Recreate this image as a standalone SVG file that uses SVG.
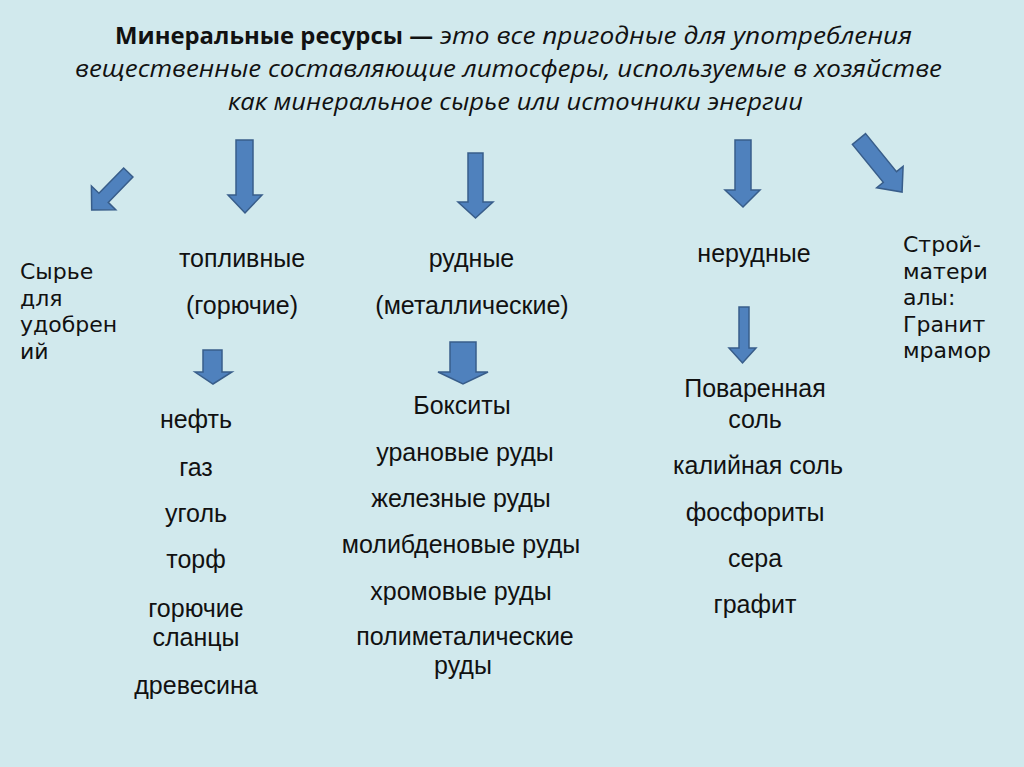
<svg xmlns="http://www.w3.org/2000/svg" width="1024" height="767" viewBox="0 0 1024 767">
<defs>
<style>
.t{font-family:"Open Sans","Liberation Sans",sans-serif;font-size:23px;fill:#111}
.b{font-weight:bold;font-style:normal}
.i{font-style:italic}
.m{font-family:"Liberation Sans",Arial,sans-serif;font-size:25px;fill:#111;text-anchor:middle}
.s{font-family:"DejaVu Sans",Verdana,sans-serif;font-size:22px;fill:#111}
.arr{fill:#4f81bd;stroke:#385d8a;stroke-width:1.5;stroke-linejoin:miter}
</style>
</defs>
<rect x="0" y="0" width="1024" height="767" fill="#d1e9ed"/>
<g id="title">
<text class="t b" x="115" y="44" textLength="318" lengthAdjust="spacingAndGlyphs">Минеральные ресурсы —</text>
<text class="t i" x="440" y="44" textLength="472" lengthAdjust="spacingAndGlyphs">это все пригодные для употребления</text>
<text class="t i" x="75" y="77" textLength="867" lengthAdjust="spacingAndGlyphs">вещественные составляющие литосферы, используемые в хозяйстве</text>
<text class="t i" x="228" y="110" textLength="575" lengthAdjust="spacingAndGlyphs">как минеральное сырье или источники энергии</text>
</g>
<g id="connectors">
<polygon class="arr" points="236,140 253,140 253,195 262,195 245,213 228,195 236,195"/>
<polygon class="arr" points="468,153 483,153 483,202 493,202 475.5,218 458,202 468,202"/>
<polygon class="arr" points="735,140 751,140 751,190 760,190 743,207 725,190 735,190"/>
<polygon class="arr" points="203,350 222,350 222,372 232,372 213,384 195,372 203,372"/>
<polygon class="arr" points="450,342 476,342 476,372 488,372 463,384 438,372 450,372"/>
<polygon class="arr" points="739,307 749,307 749,348 756,348 742.5,363 729,348 739,348"/>
<polygon class="arr" transform="translate(859,139) rotate(50.9)" points="0,-8.5 49,-8.5 49,-17 68.3,0 49,17 49,8.5 0,8.5"/>
<polygon class="arr" transform="translate(128.3,172.5) rotate(134.3)" points="0,-6.5 35.4,-6.5 35.4,-17 52.4,0 35.4,17 35.4,6.5 0,6.5"/>
</g>
<g id="node-fertilizer">
<text class="s" x="20" y="279">Сырье</text>
<text class="s" x="20" y="305.5">для</text>
<text class="s" x="20" y="332">удобрен</text>
<text class="s" x="20" y="358.5">ий</text>
</g>
<g id="node-fuel">
<text class="m" x="242" y="267">топливные</text>
<text class="m" x="242" y="314">(горючие)</text>
</g>
<g id="node-ore">
<text class="m" x="471.5" y="267">рудные</text>
<text class="m" x="472" y="314">(металлические)</text>
</g>
<g id="node-nonore">
<text class="m" x="754" y="262">нерудные</text>
</g>
<g id="node-building">
<text class="s" x="903" y="252">Строй-</text>
<text class="s" x="903" y="278.5">матери</text>
<text class="s" x="903" y="305">алы:</text>
<text class="s" x="903" y="331.5">Гранит</text>
<text class="s" x="903" y="358">мрамор</text>
</g>
<g id="list-fuel">
<text class="m" x="196" y="428">нефть</text>
<text class="m" x="196" y="476">газ</text>
<text class="m" x="196" y="522">уголь</text>
<text class="m" x="196" y="568">торф</text>
<text class="m" x="196" y="617">горючие</text>
<text class="m" x="196" y="646">сланцы</text>
<text class="m" x="196" y="694">древесина</text>
</g>
<g id="list-ore">
<text class="m" x="462" y="414">Бокситы</text>
<text class="m" x="465" y="461">урановые руды</text>
<text class="m" x="461" y="507">железные руды</text>
<text class="m" x="461" y="553">молибденовые руды</text>
<text class="m" x="461" y="600">хромовые руды</text>
<text class="m" x="465" y="645">полиметалические</text>
<text class="m" x="463" y="674">руды</text>
</g>
<g id="list-nonore">
<text class="m" x="755" y="397">Поваренная</text>
<text class="m" x="755" y="428">соль</text>
<text class="m" x="758" y="474">калийная соль</text>
<text class="m" x="755" y="521">фосфориты</text>
<text class="m" x="755" y="567">сера</text>
<text class="m" x="755" y="613">графит</text>
</g>
</svg>
